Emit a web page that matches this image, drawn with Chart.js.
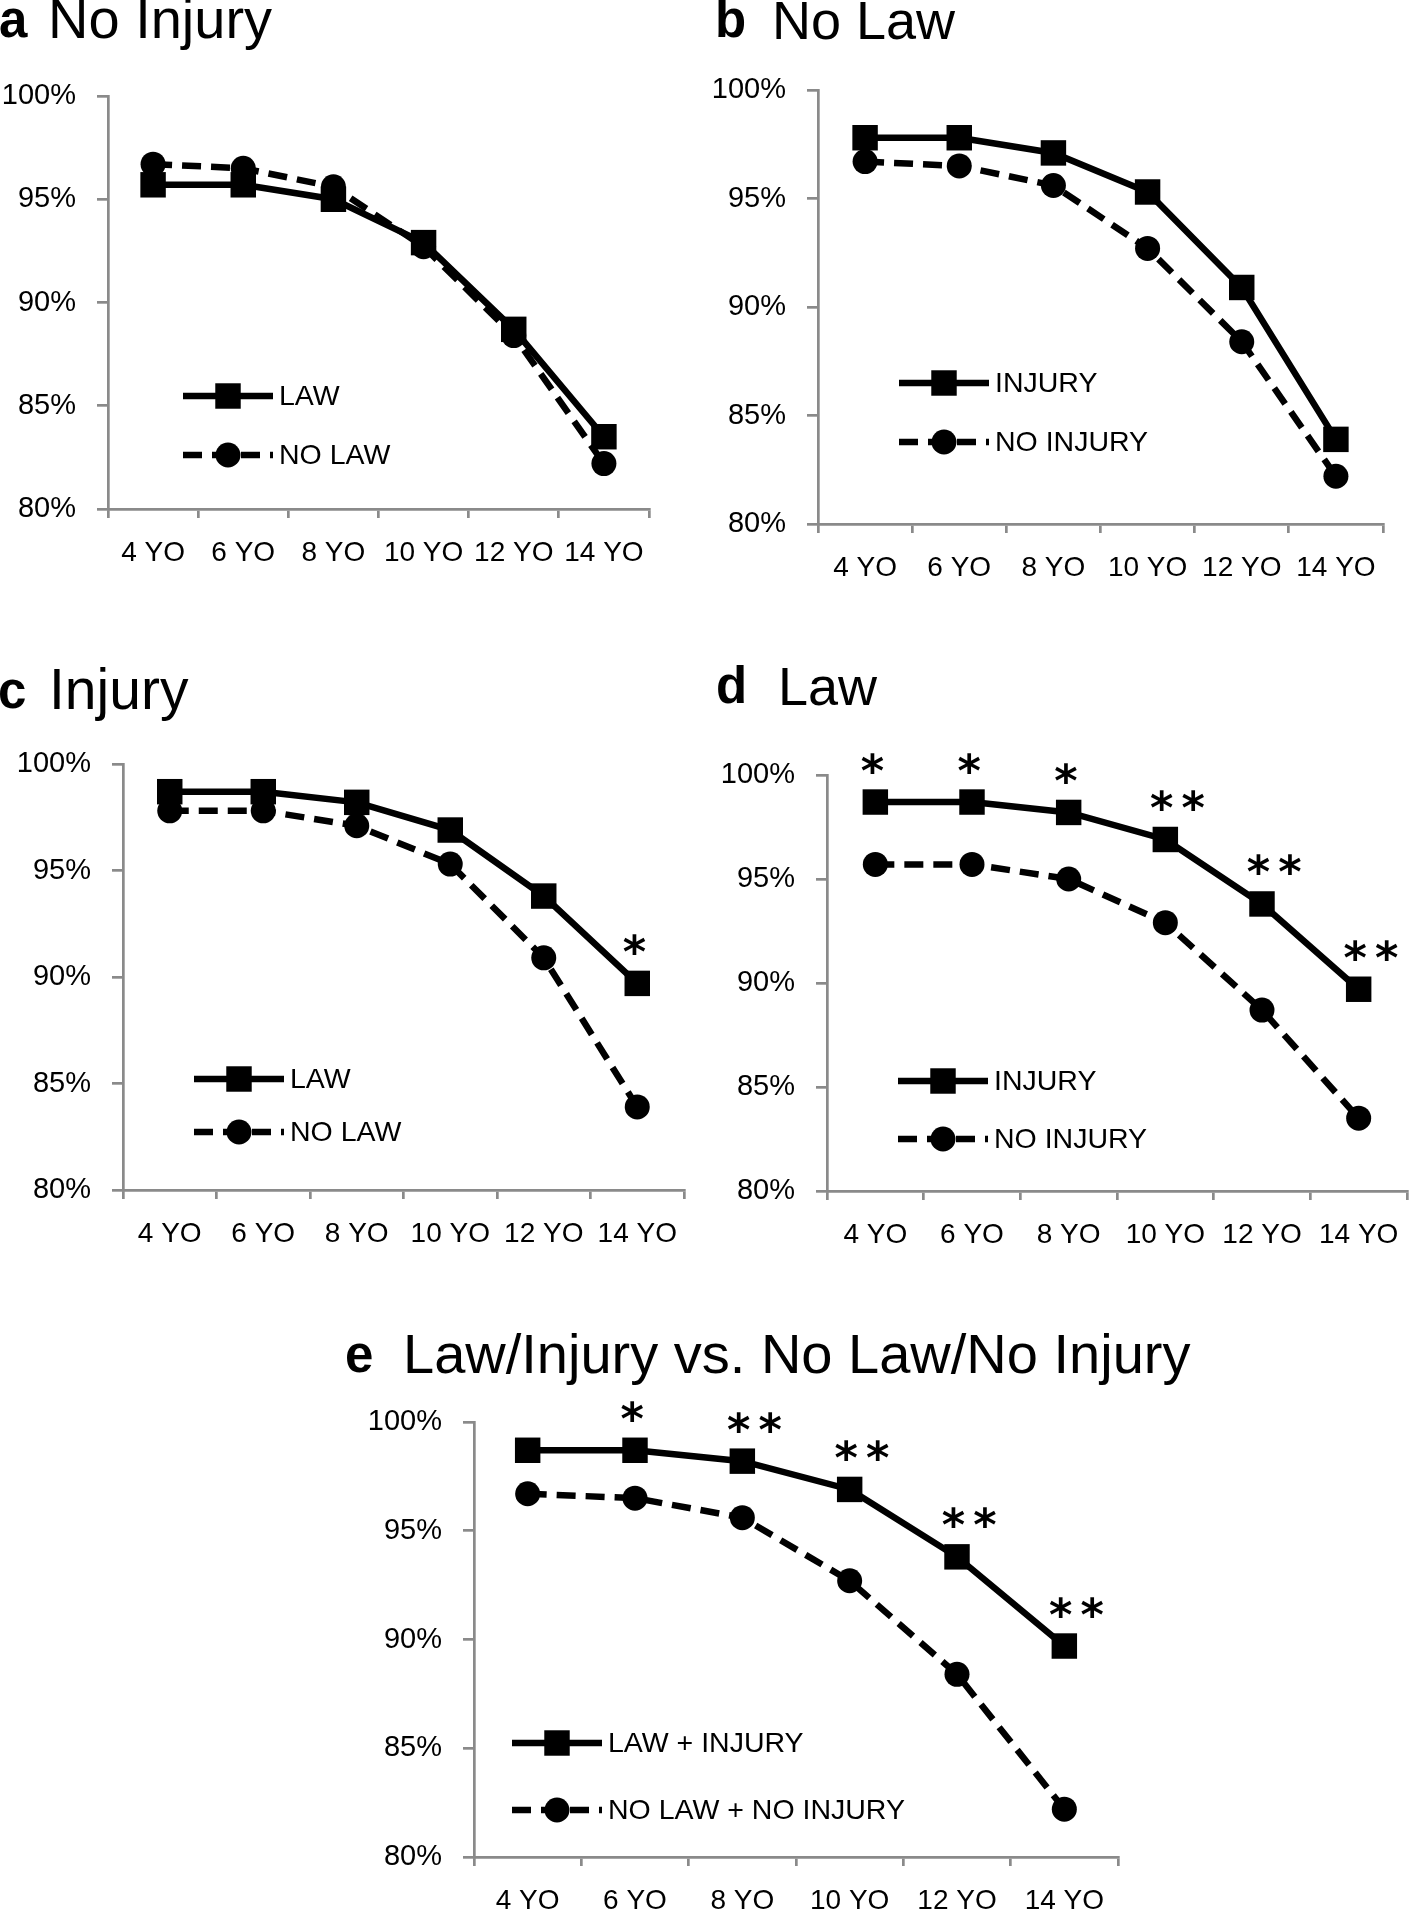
<!DOCTYPE html>
<html>
<head>
<meta charset="utf-8">
<script src="https://cdn.jsdelivr.net/npm/chart.js@4.4.1/dist/chart.umd.min.js"></script>
<style>
  body { margin: 0; background: #fff; }
  #page { position: relative; width: 1416px; height: 1910px; overflow: hidden; background: #fff;
          font-family: "Liberation Sans", Arial, sans-serif; color: #000; }
  .ttl { position: absolute; font-size: 54px; line-height: 54px; white-space: nowrap; }
  .ltr { position: absolute; font-size: 51px; line-height: 54px; font-weight: bold; }
  canvas { position: absolute; }
</style>
</head>
<body>
<div id="page">
  <span class="ltr" style="left:-1px;top:-7px">a</span>
  <span class="ttl" style="left:48px;top:-8px;font-size:56px">No Injury</span>
  <span class="ltr" style="left:715px;top:-7px">b</span>
  <span class="ttl" style="left:772px;top:-7px">No Law</span>
  <span class="ltr" style="left:-2px;top:664px">c</span>
  <span class="ttl" style="left:49px;top:662px;font-size:57px">Injury</span>
  <span class="ltr" style="left:716px;top:659px">d</span>
  <span class="ttl" style="left:778px;top:659px">Law</span>
  <span class="ltr" style="left:345px;top:1328px">e</span>
  <span class="ttl" style="left:403px;top:1327px;font-size:56px">Law/Injury vs. No Law/No Injury</span>

  <canvas id="chartA"></canvas>
  <canvas id="chartB"></canvas>
  <canvas id="chartC"></canvas>
  <canvas id="chartD"></canvas>
  <canvas id="chartE"></canvas>
</div>
<script>
// 年齢カテゴリ
const ages = ["4 YO", "6 YO", "8 YO", "10 YO", "12 YO", "14 YO"];

// 各グループの割合 (%)
const lawNoInjury = [95.7, 95.7, 95.0, 92.9, 88.7, 83.5];
const noLawNoInjury = [96.7, 96.5, 95.6, 92.7, 88.4, 82.2];
const noLawInjury = [97.8, 97.8, 97.1, 95.3, 90.9, 83.9];
const lawInjury = [98.7, 98.7, 98.2, 96.9, 93.8, 89.7];

// 有意差の印
const starsC = ["", "", "", "", "", "*"];
const starsD = ["*", "*", "*", "**", "**", "**"];
const starsE = ["", "*", "**", "**", "**", "**"];

// y軸の目盛り
const yMin = 80;
const yMax = 100;
const yStep = 5;

const AXIS_GRAY = "#8a8a8a";

// 実線 + 四角
function solidSet(label, data) {
  return {
    label: label,
    data: data,
    borderColor: "#000",
    backgroundColor: "#000",
    borderWidth: 6.5,
    pointStyle: "rect",
    pointRadius: 18,
    pointBorderWidth: 0,
    pointBackgroundColor: "#000",
    clip: false,
  };
}

// 破線 + 丸
function dashedSet(label, data) {
  return {
    label: label,
    data: data,
    borderColor: "#000",
    backgroundColor: "#000",
    borderWidth: 6.5,
    borderDash: [19, 10],
    pointStyle: "circle",
    pointRadius: 12.5,
    pointBorderWidth: 0,
    pointBackgroundColor: "#000",
    clip: false,
  };
}

// グラフ内の凡例
const insideLegend = {
  id: "insideLegend",
  afterDatasetsDraw(chart, args, opts) {
    const { ctx, chartArea } = chart;
    chart.data.datasets.forEach((ds, i) => {
      const x0 = chartArea.left + opts.x;
      const y = chartArea.top + opts.y + i * opts.gap;
      ctx.save();
      ctx.strokeStyle = "#000";
      ctx.fillStyle = "#000";
      ctx.lineWidth = ds.borderWidth;
      ctx.setLineDash(ds.borderDash || []);
      ctx.beginPath();
      ctx.moveTo(x0, y);
      ctx.lineTo(x0 + 90, y);
      ctx.stroke();
      ctx.setLineDash([]);
      const mx = x0 + 45;
      ctx.beginPath();
      if (ds.pointStyle === "rect") {
        const s = ds.pointRadius * Math.SQRT1_2;
        ctx.rect(mx - s, y - s, 2 * s, 2 * s);
      } else {
        ctx.arc(mx, y, ds.pointRadius, 0, Math.PI * 2);
      }
      ctx.fill();
      ctx.font = '28.5px "Liberation Sans", Arial, sans-serif';
      ctx.textBaseline = "middle";
      ctx.textAlign = "left";
      ctx.fillText(ds.label, x0 + 96, y + 1);
      ctx.restore();
    });
  },
};

// 有意差の * を描く
const starLabels = {
  id: "starLabels",
  afterDatasetsDraw(chart, args, opts) {
    if (!opts.labels) return;
    const { ctx } = chart;
    const meta = chart.getDatasetMeta(0);
    ctx.save();
    ctx.font = 'bold 100px "DejaVu Sans"';
    let m = ctx.measureText("*");
    const size = (100 * 21) / (m.actualBoundingBoxAscent + m.actualBoundingBoxDescent);
    ctx.font = "bold " + size + 'px "DejaVu Sans"';
    m = ctx.measureText("*");
    ctx.fillStyle = "#000";
    ctx.textAlign = "left";
    ctx.textBaseline = "alphabetic";
    opts.labels.forEach((s, i) => {
      if (!s) return;
      const pt = meta.data[i];
      const n = s.length;
      const cx = pt.x + (n > 1 ? 12 : -3);
      const cy = pt.y - 39;
      for (let k = 0; k < n; k++) {
        const x = cx + (k - (n - 1) / 2) * 31.5;
        const dx = x - (m.actualBoundingBoxRight - m.actualBoundingBoxLeft) / 2;
        const dy = cy + (m.actualBoundingBoxAscent - m.actualBoundingBoxDescent) / 2;
        ctx.fillText("*", dx, dy);
      }
    });
    ctx.restore();
  },
};

// パネルを作る
function makePanel(id, area, datasets, legendPos, stars) {
  const yAxisW = 108;
  const xAxisH = 72;
  const padTop = 42;
  const padRight = 12;
  const left = area.l - yAxisW;
  const top = area.t - padTop;
  const width = area.r - left + padRight;
  const height = area.b - top + xAxisH;

  const canvas = document.getElementById(id);
  canvas.width = width;
  canvas.height = height;
  canvas.style.left = left + "px";
  canvas.style.top = top + "px";
  canvas.style.width = width + "px";
  canvas.style.height = height + "px";

  new Chart(canvas.getContext("2d"), {
    type: "line",
    data: { labels: ages, datasets: datasets },
    plugins: [insideLegend, starLabels],
    options: {
      responsive: false,
      animation: false,
      layout: { padding: { top: padTop, right: padRight, left: 0, bottom: 0 } },
      elements: { line: { tension: 0, borderCapStyle: "butt" } },
      scales: {
        x: {
          offset: true,
          afterFit(scale) {
            scale.height = xAxisH;
          },
          border: { color: AXIS_GRAY, width: 2.7 },
          grid: {
            offset: true,
            drawOnChartArea: false,
            drawTicks: true,
            tickLength: 9,
            color: AXIS_GRAY,
            lineWidth: 2.7,
          },
          ticks: {
            color: "#000",
            font: { family: "Liberation Sans", size: 28 },
            padding: 18,
            maxRotation: 0,
          },
        },
        y: {
          min: yMin,
          max: yMax,
          afterFit(scale) {
            scale.width = yAxisW;
          },
          border: { color: AXIS_GRAY, width: 2.7 },
          grid: {
            drawOnChartArea: false,
            drawTicks: true,
            tickLength: 11,
            color: AXIS_GRAY,
            lineWidth: 2.7,
          },
          ticks: {
            stepSize: yStep,
            color: "#000",
            font: { family: "Liberation Sans", size: 29 },
            padding: 21,
            callback: (v) => v + "%",
          },
        },
      },
      plugins: {
        legend: { display: false },
        tooltip: { enabled: false },
        insideLegend: legendPos,
        starLabels: { labels: stars },
      },
    },
  });
}

makePanel(
  "chartA",
  { l: 108, t: 96, r: 655, b: 509 },
  [solidSet("LAW", lawNoInjury), dashedSet("NO LAW", noLawNoInjury)],
  { x: 75, y: 300, gap: 59 },
  null
);
makePanel(
  "chartB",
  { l: 818, t: 90, r: 1389, b: 524 },
  [solidSet("INJURY", noLawInjury), dashedSet("NO INJURY", noLawNoInjury)],
  { x: 81, y: 293, gap: 59 },
  null
);
makePanel(
  "chartC",
  { l: 123, t: 764, r: 690, b: 1190 },
  [solidSet("LAW", lawInjury), dashedSet("NO LAW", noLawInjury)],
  { x: 71, y: 315, gap: 53 },
  starsC
);
makePanel(
  "chartD",
  { l: 827, t: 775, r: 1413, b: 1191 },
  [solidSet("INJURY", lawInjury), dashedSet("NO INJURY", lawNoInjury)],
  { x: 71, y: 306, gap: 58 },
  starsD
);
makePanel(
  "chartE",
  { l: 474, t: 1422, r: 1124, b: 1857 },
  [solidSet("LAW + INJURY", lawInjury), dashedSet("NO LAW + NO INJURY", noLawNoInjury)],
  { x: 38, y: 321, gap: 67 },
  starsE
);
</script>
</body>
</html>
